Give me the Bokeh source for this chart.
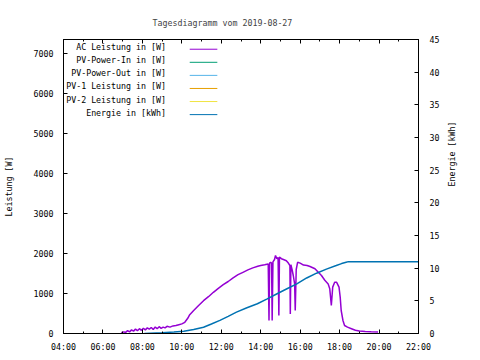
import math
from bokeh.plotting import figure
from bokeh.models import (Range1d, LinearAxis, FixedTicker, Label, Arrow)
from bokeh.embed import file_html
from bokeh.resources import INLINE

# ---------------- data ----------------
title_text = "Tagesdiagramm vom 2019-08-27"
y_label = "Leistung [W]"
y2_label = "Energie [kWh]"

x_ticks = [4, 6, 8, 10, 12, 14, 16, 18, 20, 22]
x_tick_labels = ["04:00", "06:00", "08:00", "10:00", "12:00", "14:00",
                 "16:00", "18:00", "20:00", "22:00"]
x_minor = [5, 7, 9, 11, 13, 15, 17, 19, 21]
y_ticks = [0, 1000, 2000, 3000, 4000, 5000, 6000, 7000]
y2_ticks = [0, 5, 10, 15, 20, 25, 30, 35, 40, 45]

series_names = ["AC Leistung in [W]", "PV-Power-In in [W]", "PV-Power-Out in [W]",
                "PV-1 Leistung in [W]", "PV-2 Leistung in [W]", "Energie in [kWh]"]
series_colors = ["#9400D3", "#009E73", "#56B4E9", "#E69F00", "#F0E442", "#0072B2"]

# AC Leistung (hours of day, W)
ac_hours = [6.93, 7.05, 7.15, 7.25, 7.35, 7.45, 7.55, 7.65, 7.75, 7.85, 7.95, 8.05,
            8.15, 8.25, 8.35, 8.45, 8.55, 8.65, 8.75, 8.85, 8.95, 9.05, 9.15, 9.25,
            9.4, 9.55, 9.7, 9.85, 10.0, 10.15, 10.3, 10.4, 10.6, 10.85, 11.1, 11.35,
            11.6, 11.85, 12.1, 12.35, 12.6, 12.85, 13.1, 13.35, 13.6, 13.85, 14.0,
            14.2, 14.38, 14.42, 14.45, 14.5, 14.55, 14.58, 14.62, 14.7, 14.75, 14.82,
            14.88, 14.92, 14.95, 15.05, 15.15, 15.3, 15.4, 15.48, 15.5, 15.53, 15.6,
            15.65, 15.72, 15.75, 15.8, 15.87, 16.0, 16.17, 16.35, 16.5, 16.75, 16.92,
            17.08, 17.25, 17.42, 17.5, 17.58, 17.65, 17.75, 17.85, 17.97, 18.03, 18.08,
            18.17, 18.25, 18.4, 18.6, 18.8, 19.0, 19.3, 19.6, 19.95]
ac_watts = [20, 40, 30, 70, 40, 90, 60, 110, 70, 120, 80, 130,
            90, 140, 110, 150, 100, 160, 120, 170, 130, 160, 140, 180,
            160, 190, 200, 220, 240, 280, 380, 470, 575, 700, 820, 920,
            1030, 1130, 1220, 1300, 1390, 1470, 1530, 1590, 1640, 1680, 1700,
            1720, 1740, 325, 1760, 1780, 1760, 325, 1790, 1850, 1950, 1870,
            1900, 450, 1910, 1870, 1850, 1820, 1760, 1700, 490, 1720, 1575,
            1450, 1240, 575, 1600, 1780, 1760, 1710, 1700, 1675, 1620, 1530,
            1450, 1330, 1240, 1120, 700, 1160, 1280, 1280, 1160, 910, 575,
            325, 200, 160, 120, 80, 60, 50, 45, 40]

# Energie (hours of day, kWh)
en_hours = [8.1, 9.0, 9.6, 10.1, 10.6, 11.1, 11.5, 11.93, 12.35, 12.77, 13.3, 13.83,
            14.33, 14.83, 15.33, 15.83, 16.33, 16.83, 17.33, 17.83, 18.1, 18.33,
            18.45, 22.0]
en_kwh = [0.0, 0.12, 0.22, 0.35, 0.6, 0.96, 1.45, 2.0, 2.62, 3.27, 3.95, 4.55,
          5.3, 6.08, 6.85, 7.6, 8.5, 9.23, 9.85, 10.4, 10.7, 10.9, 11.0, 11.0]

# ---------------- figure ----------------
FONT = "DejaVu Sans Mono"
FS = "8.3px"

p = figure(width=480, height=360, output_backend="svg", toolbar_location=None,
           x_range=Range1d(4, 22), y_range=Range1d(0, 7350),
           min_border_left=58, min_border_right=62, min_border_top=39,
           min_border_bottom=27, x_axis_location=None, y_axis_location=None)
p.extra_y_ranges = {"energy": Range1d(0, 45)}
p.xgrid.visible = False
p.ygrid.visible = False
p.outline_line_color = "black"
p.outline_line_width = 1
p.background_fill_color = "white"
p.border_fill_color = "white"

p.title.text = title_text
p.title.align = "left"
p.title.offset = 89
p.title.text_font = FONT
p.title.text_font_size = FS
p.title.text_font_style = "normal"
p.title.standoff = 24


def style_axis(ax):
    ax.axis_line_color = "black"
    ax.major_tick_line_color = "black"
    ax.minor_tick_line_color = "black"
    ax.major_tick_out = 0
    ax.minor_tick_out = 0
    ax.major_tick_in = 4
    ax.minor_tick_in = 2
    ax.major_label_text_font = FONT
    ax.major_label_text_font_size = FS
    ax.major_label_text_color = "black"
    ax.axis_label_text_font = FONT
    ax.axis_label_text_font_size = FS
    ax.axis_label_text_font_style = "normal"
    ax.axis_label_text_color = "black"


xaxis = LinearAxis(ticker=FixedTicker(ticks=x_ticks, minor_ticks=x_minor),
                   major_label_overrides=dict(zip(x_ticks, x_tick_labels)))
style_axis(xaxis)
xaxis.major_label_standoff = 8
p.add_layout(xaxis, "below")

xtop = LinearAxis(ticker=FixedTicker(ticks=x_ticks, minor_ticks=x_minor))
style_axis(xtop)
xtop.major_label_text_color = None
xtop.major_label_standoff = 0
p.add_layout(xtop, "above")

yaxis = LinearAxis(ticker=FixedTicker(ticks=y_ticks, minor_ticks=[]),
                   axis_label=y_label)
style_axis(yaxis)
yaxis.major_label_standoff = 10
yaxis.axis_label_standoff = 17
p.add_layout(yaxis, "left")

y2axis = LinearAxis(y_range_name="energy",
                    ticker=FixedTicker(ticks=y2_ticks, minor_ticks=[]),
                    axis_label=y2_label)
style_axis(y2axis)
y2axis.major_label_standoff = 11
y2axis.axis_label_standoff = 10
try:
    y2axis.axis_label_orientation = math.pi / 2
except Exception:
    pass
p.add_layout(y2axis, "right")

# data lines
p.line(ac_hours, ac_watts, line_color=series_colors[0], line_width=1.5)
p.line(en_hours, en_kwh, line_color=series_colors[5], line_width=1.5,
       y_range_name="energy")

# key (text right aligned, sample line to the right), gnuplot style
key_text_x = 9.2
key_line_x0 = 10.4
key_line_x1 = 11.8
key_top = 7157
key_step = 327
for i, (name, col) in enumerate(zip(series_names, series_colors)):
    yy = key_top - i * key_step
    p.add_layout(Label(x=key_text_x, y=yy, text=name, text_align="right",
                       text_baseline="middle", text_font=FONT,
                       text_font_size=FS, text_color="black"))
    p.add_layout(Arrow(end=None, x_start=key_line_x0, x_end=key_line_x1,
                       y_start=yy - 50, y_end=yy - 50,
                       line_color=col, line_width=1))

open("out.html", "w").write(file_html(p, INLINE))
